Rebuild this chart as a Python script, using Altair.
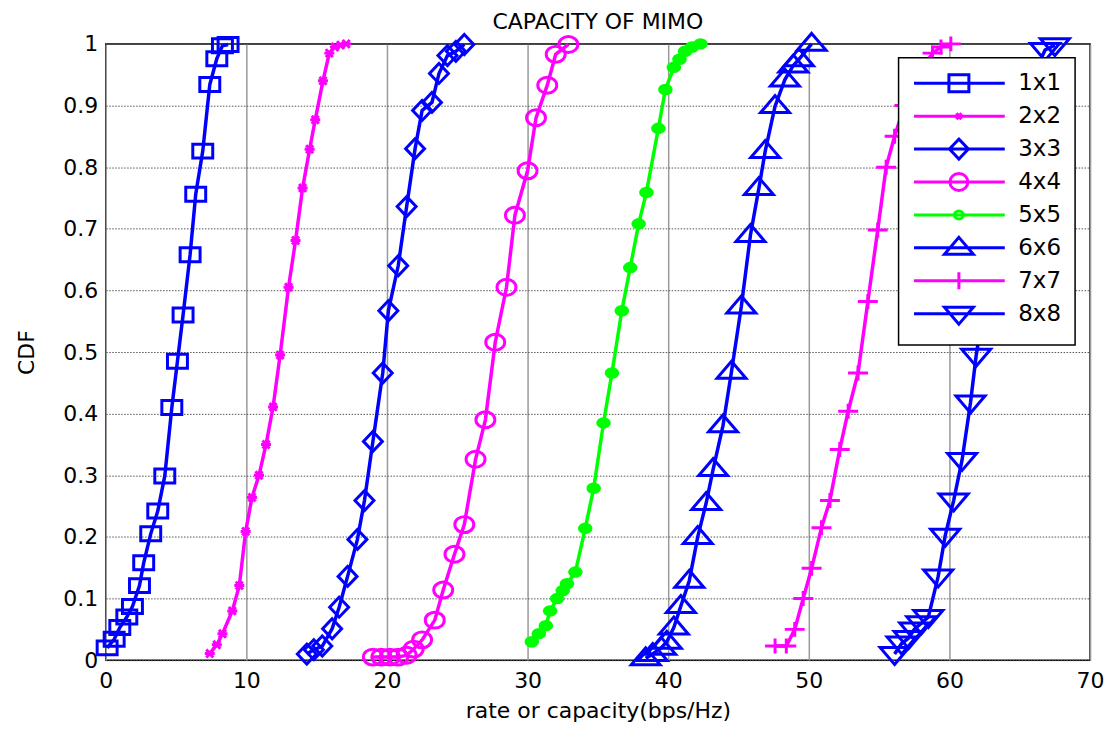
import altair as alt
import pandas as pd

series = ["1x1", "2x2", "3x3", "4x4", "5x5", "6x6", "7x7", "8x8"]
colors = ["#0000FF", "#FF00FF", "#0000FF", "#FF00FF", "#00FF00", "#0000FF", "#FF00FF", "#0000FF"]

x_1x1 = [0.1, 0.6, 1.0, 1.5, 1.9, 2.4, 2.7, 3.2, 3.7, 4.2, 4.7, 5.1, 5.5, 6.0, 6.4, 6.9, 7.4, 7.9, 8.3, 8.7]
y_1x1 = [0.02, 0.034, 0.053, 0.07, 0.087, 0.121, 0.158, 0.205, 0.242, 0.299, 0.41, 0.485, 0.56, 0.658, 0.756, 0.826, 0.934, 0.976, 0.997, 0.999]

x_2x2 = [7.4, 7.9, 8.3, 9.0, 9.5, 9.95, 10.4, 10.9, 11.4, 11.9, 12.4, 13.0, 13.5, 14.0, 14.5, 14.9, 15.45, 15.9, 16.3, 16.7, 17.1]
y_2x2 = [0.011, 0.025, 0.043, 0.08, 0.121, 0.209, 0.264, 0.30, 0.35, 0.411, 0.495, 0.605, 0.681, 0.766, 0.829, 0.877, 0.94, 0.985, 0.995, 0.998, 1.0]

x_3x3 = [14.3, 14.8, 15.4, 16.1, 16.6, 17.2, 17.9, 18.4, 19.0, 19.7, 20.1, 20.8, 21.4, 22.0, 22.5, 23.2, 23.7, 24.3, 24.9, 25.5]
y_3x3 = [0.01, 0.017, 0.023, 0.051, 0.086, 0.136, 0.196, 0.259, 0.355, 0.466, 0.567, 0.64, 0.736, 0.83, 0.892, 0.905, 0.952, 0.981, 0.988, 0.999]

x_4x4 = [19.0, 19.6, 20.2, 20.8, 21.4, 21.9, 22.5, 23.4, 24.0, 24.8, 25.5, 26.3, 27.0, 27.7, 28.5, 29.1, 30.0, 30.6, 31.4, 32.0, 32.9]
y_4x4 = [0.005, 0.005, 0.005, 0.005, 0.008, 0.018, 0.033, 0.065, 0.114, 0.172, 0.22, 0.326, 0.39, 0.516, 0.605, 0.722, 0.794, 0.88, 0.933, 0.983, 0.999]

x_5x5 = [30.3, 30.8, 31.3, 31.6, 32.1, 32.5, 32.8, 33.4, 34.1, 34.7, 35.4, 36.0, 36.7, 37.3, 37.9, 38.45, 39.3, 39.8, 40.4, 40.8, 41.2, 41.7, 42.3]
y_5x5 = [0.03, 0.043, 0.056, 0.08, 0.1, 0.113, 0.124, 0.143, 0.214, 0.279, 0.385, 0.466, 0.567, 0.637, 0.708, 0.759, 0.863, 0.926, 0.962, 0.975, 0.988, 0.995, 1.0]

x_6x6 = [38.4, 38.9, 39.5, 39.9, 40.4, 40.9, 41.5, 42.1, 42.7, 43.2, 43.9, 44.5, 45.2, 45.85, 46.45, 46.9, 47.6, 48.3, 48.9, 49.3, 50.2]
y_6x6 = [0.003, 0.01, 0.02, 0.03, 0.053, 0.088, 0.129, 0.2, 0.255, 0.31, 0.381, 0.468, 0.574, 0.69, 0.766, 0.826, 0.899, 0.942, 0.965, 0.975, 1.0]

x_7x7 = [47.6, 48.4, 49.0, 49.6, 50.2, 50.9, 51.5, 52.2, 52.8, 53.5, 54.2, 54.9, 55.5, 56.1, 56.8, 57.5, 58.2, 58.8, 59.4, 60.1]
y_7x7 = [0.023, 0.023, 0.05, 0.1, 0.149, 0.215, 0.259, 0.342, 0.404, 0.466, 0.582, 0.698, 0.80, 0.85, 0.9, 0.94, 0.965, 0.985, 0.995, 1.0]

x_8x8 = [56.1, 56.6, 57.1, 57.5, 58.0, 58.5, 59.2, 59.7, 60.3, 60.9, 61.5, 61.9, 62.5, 63.1, 63.7, 64.3, 64.9, 65.5, 66.2, 66.8, 67.5]
y_8x8 = [0.01, 0.027, 0.036, 0.05, 0.06, 0.07, 0.136, 0.202, 0.259, 0.325, 0.418, 0.494, 0.58, 0.66, 0.74, 0.81, 0.87, 0.92, 0.96, 0.99, 0.998]

x_ticks = [0, 10, 20, 30, 40, 50, 60, 70]
y_ticks = [0, 0.1, 0.2, 0.3, 0.4, 0.5, 0.6, 0.7, 0.8, 0.9, 1.0]

xs = [x_1x1, x_2x2, x_3x3, x_4x4, x_5x5, x_6x6, x_7x7, x_8x8]
ys = [y_1x1, y_2x2, y_3x3, y_4x4, y_5x5, y_6x6, y_7x7, y_8x8]

# marker shapes for the plot (custom paths, wider than tall like the reference)
plot_shapes = [
    "M-1,-0.7H1V0.7H-1Z",
    "M-1,0H1M-0.7,-0.8L0.7,0.8M-0.7,0.8L0.7,-0.8",
    "M0,-1L0.95,0L0,1L-0.95,0Z",
    "M-0.95,0A0.95,0.8 0 1,0 0.95,0A0.95,0.8 0 1,0 -0.95,0Z",
    "M-1,0A1,0.75 0 1,0 1,0A1,0.75 0 1,0 -1,0ZM-1.2,0H1.2",
    "M0,-1.05L1.45,0.65L-1.45,0.65Z",
    "M-1,0H1M0,-0.75V0.75",
    "M0,1.05L1.45,-0.65L-1.45,-0.65Z",
]
plot_sizes = [400, 100, 400, 400, 144, 400, 400, 400]
plot_filled = [False, False, False, False, True, False, False, False]

# legend symbols: line + marker
pre = "M0,-1.1M0,1.1M-1,0H8.1"
legend_shapes = [
    pre + "M2.5,-0.85H4.5V0.85H2.5Z",
    pre + "M3.15,0H3.85M3.25,-0.3L3.75,0.3M3.25,0.3L3.75,-0.3",
    pre + "M3.5,-1L4.45,0L3.5,1L2.55,0Z",
    pre + "M2.6,0A0.9,0.85 0 1,0 4.4,0A0.9,0.85 0 1,0 2.6,0Z",
    pre + "M3.05,0A0.45,0.4 0 1,0 3.95,0A0.45,0.4 0 1,0 3.05,0Z",
    pre + "M3.5,-1.05L4.95,0.65L2.05,0.65Z",
    pre + "M2.5,0H4.5M3.5,-0.85V0.85",
    pre + "M3.5,1.05L4.95,-0.65L2.05,-0.65Z",
]

FONT = "DejaVu Sans"

frames = []
for s, xv, yv in zip(series, xs, ys):
    frames.append(pd.DataFrame({"series": s, "x": xv, "y": yv}))
df = pd.concat(frames, ignore_index=True)

x_enc = alt.X(
    "x:Q",
    scale=alt.Scale(domain=[0, 70], nice=False, zero=False),
    axis=alt.Axis(
        values=x_ticks, title="rate or capacity(bps/Hz)", titleFont=FONT, titleFontSize=22,
        titleFontWeight="normal", titleColor="black", titleY=50, titleBaseline="middle",
        labelFont=FONT, labelFontSize=22, labelColor="black", labelPadding=10,
        labelFlush=False, labelOverlap=False, ticks=False, domain=False,
        grid=True, gridColor="#9a9a9a", gridWidth=1.5,
    ),
)
y_enc = alt.Y(
    "y:Q",
    scale=alt.Scale(domain=[0, 1], nice=False, zero=False),
    axis=alt.Axis(
        values=y_ticks, format="~g", title="CDF", titleFont=FONT, titleFontSize=22,
        titleFontWeight="normal", titleColor="black", titleAngle=270, titleX=-79, titleY=309,
        titleBaseline="middle", titleAlign="center",
        labelFont=FONT, labelFontSize=22, labelColor="black", labelPadding=8,
        labelFlush=False, labelOverlap=False, ticks=False, domain=False,
        grid=True, gridColor="#555555", gridWidth=1, gridDash=[1.5, 1.5],
    ),
)

layers = []
for i, s in enumerate(series):
    sub = alt.Chart(df).transform_filter(alt.datum.series == s)
    layers.append(sub.mark_line(color=colors[i], strokeWidth=3.5).encode(x=x_enc, y=y_enc))
    if plot_filled[i]:
        pm = sub.mark_point(shape=plot_shapes[i], size=plot_sizes[i], filled=True,
                            color=colors[i], stroke=colors[i], strokeWidth=2.5, opacity=1)
    else:
        pm = sub.mark_point(shape=plot_shapes[i], size=plot_sizes[i], filled=False,
                            color=colors[i], strokeWidth=3, opacity=1)
    layers.append(pm.encode(x=x_enc, y=y_enc))

leg = alt.Legend(
    title=None, orient="none", legendX=795, legendY=14, symbolSize=400,
    symbolStrokeWidth=3, symbolOpacity=1, labelFont=FONT, labelFontSize=23,
    labelColor="black", labelOffset=83, padding=14, rowPadding=-2,
    strokeColor="black", fillColor="white",
)
legend_layer = alt.Chart(df).mark_point(opacity=0, size=400, filled=False, strokeWidth=3).encode(
    x=x_enc,
    y=y_enc,
    color=alt.Color("series:N", scale=alt.Scale(domain=series, range=colors), legend=leg),
    shape=alt.Shape("series:N", scale=alt.Scale(domain=series, range=legend_shapes), legend=leg),
)
layers.append(legend_layer)

chart = alt.layer(*layers).properties(
    width=987,
    height=618,
    title=alt.TitleParams(
        text="CAPACITY OF MIMO", font=FONT, fontSize=22, fontWeight="normal",
        color="black", anchor="middle", frame="group", offset=12, dy=19,
    ),
    autosize=alt.AutoSizeParams(type="none"),
    padding={"left": 98, "top": 35, "right": 16, "bottom": 62},
).configure_view(
    stroke="black", strokeWidth=1.5
).configure_legend(
    strokeWidth=1.5, cornerRadius=0
)

chart.save("out.html", embed_options={"renderer": "svg", "actions": False})
